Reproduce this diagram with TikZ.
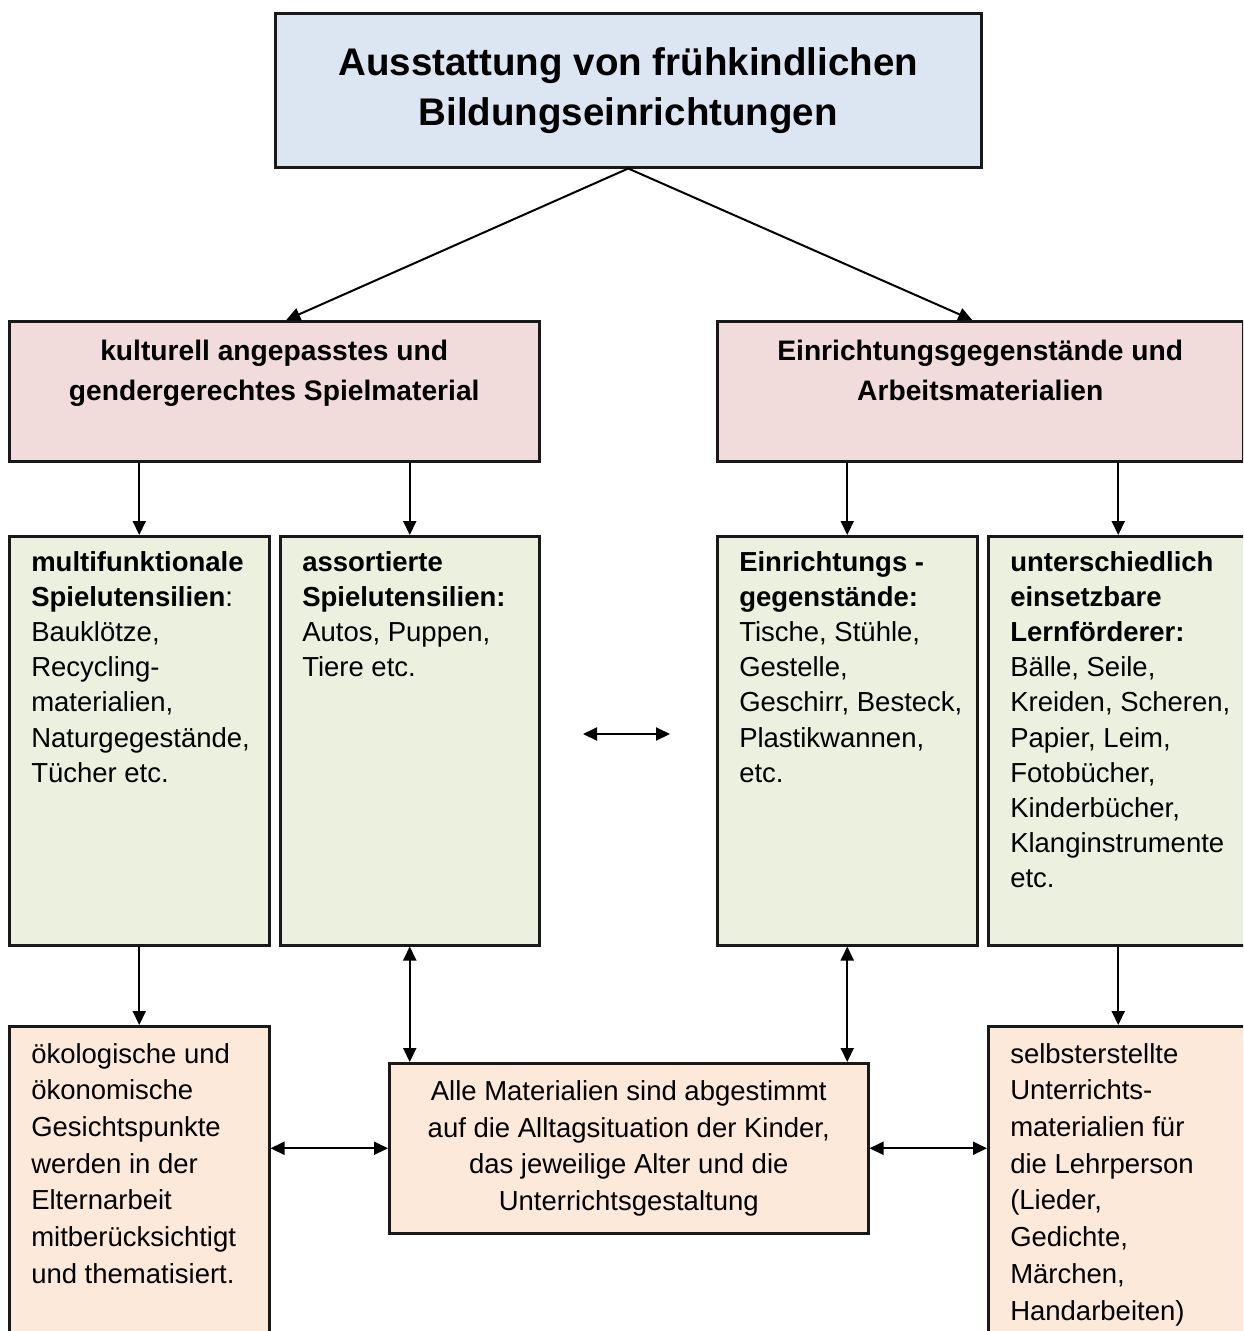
\documentclass[tikz,border=0pt]{standalone}
\usepackage{fontspec}
\setmainfont{Liberation Sans}
\usepackage{tikz}
\usepackage{xcolor}
\usetikzlibrary{arrows.meta}
\definecolor{titleblue}{HTML}{DCE6F2}
\definecolor{headpink}{HTML}{F2DCDB}
\definecolor{itemgreen}{HTML}{EBF1DE}
\definecolor{notepeach}{HTML}{FDE9D9}
\hyphenpenalty=10000
\exhyphenpenalty=10000
\tikzset{
    plain-box/.style = {draw=black!90, line width=2.5pt, rectangle, anchor=north west},
    title-box/.style = {plain-box, fill=titleblue, minimum width=706pt, minimum height=154pt, align=center, font=\bfseries\fontsize{38.5}{50}\selectfont},
    head-box/.style = {plain-box, fill=headpink, inner xsep=0pt, inner ysep=19pt, font=\bfseries\fontsize{28.2}{40}\selectfont},
    item-box/.style = {plain-box, fill=itemgreen, inner xsep=22pt, inner ysep=15pt, font=\fontsize{27.5}{35.2}\selectfont},
    note-box/.style = {plain-box, fill=notepeach, inner xsep=22pt, inner ysep=17pt, font=\fontsize{27.5}{36.7}\selectfont},
    link/.style = {line width=2pt},
}

\begin{document}
\begin{tikzpicture}[x=1pt, y=-1pt, >={Triangle[length=14pt,width=13pt]}]
\useasboundingbox (0,0) rectangle (1243,1331);
\clip (0,0) rectangle (1243,1331);

% top level
\node [title-box] (title) at (274,12) {Ausstattung von frühkindlichen\\Bildungseinrichtungen};

% second level
\node [head-box] (headL) at (8,320) {\begin{minipage}[c][102pt][t]{530pt}
    \centering
    kulturell angepasstes und\\
    gendergerechtes Spielmaterial
\end{minipage}};
\node [head-box] (headR) at (716,320) {\begin{minipage}[c][102pt][t]{526pt}
    \centering
    Einrichtungsgegenstände und\\
    Arbeitsmaterialien
\end{minipage}};

% green boxes
\node [item-box] (itemA) at (8,535) {\begin{minipage}[c][379pt][t]{216pt}
    \raggedright
    \textbf{multifunktionale}\\
    \textbf{Spielutensilien}:\\
    Bauklötze,\\
    Recycling-\\
    materialien,\\
    \mbox{Naturgegestände,}\\
    Tücher etc.
\end{minipage}};
\node [item-box] (itemB) at (279,535) {\begin{minipage}[c][379pt][t]{215pt}
    \raggedright
    \textbf{assortierte}\\
    \textbf{Spielutensilien:}\\
    Autos, Puppen,\\
    Tiere etc.
\end{minipage}};
\node [item-box] (itemC) at (716,535) {\begin{minipage}[c][379pt][t]{216pt}
    \raggedright
    \textbf{Einrichtungs -}\\
    \textbf{gegenstände:}\\
    Tische, Stühle,\\
    Gestelle,\\
    \mbox{Geschirr, Besteck,}\\
    Plastikwannen,\\
    etc.
\end{minipage}};
\node [item-box] (itemD) at (987,535) {\begin{minipage}[c][379pt][t]{216pt}
    \raggedright
    \textbf{unterschiedlich}\\
    \textbf{einsetzbare}\\
    \textbf{Lernförderer:}\\
    Bälle, Seile,\\
    \mbox{Kreiden, Scheren,}\\
    Papier, Leim,\\
    Fotobücher,\\
    Kinderbücher,\\
    \mbox{Klanginstrumente}\\
    etc.
\end{minipage}};

% bottom row
\node [note-box] (noteL) at (8,1025) {\begin{minipage}[c][296pt][t]{216pt}
    \raggedright
    ökologische und\\
    ökonomische\\
    Gesichtspunkte\\
    werden in der\\
    Elternarbeit\\
    mitberücksichtigt\\
    und thematisiert.
\end{minipage}};
\node [note-box, inner sep=0pt, minimum width=479pt, minimum height=170pt, align=center] (mid) at (388,1062) {Alle Materialien sind abgestimmt\\
    auf die Alltagsituation der Kinder,\\
    das jeweilige Alter und die\\
    Unterrichtsgestaltung};
\node [note-box] (noteR) at (987,1025) {\begin{minipage}[c][296pt][t]{216pt}
    \raggedright
    selbsterstellte\\
    Unterrichts-\\
    materialien für\\
    die Lehrperson\\
    (Lieder,\\
    Gedichte,\\
    Märchen,\\
    Handarbeiten)
\end{minipage}};

\coordinate (pairL) at (583,734);
\coordinate (pairR) at (670,734);

% connectors
\draw [link, ->] (title.south) -- ([xshift=12pt]headL.north);
\draw [link, ->] (title.south) -- ([xshift=-8pt]headR.north);
\draw [link, ->] (itemA.north |- headL.south) -- (itemA.north);
\draw [link, ->] (itemB.north |- headL.south) -- (itemB.north);
\draw [link, ->] (itemC.north |- headR.south) -- (itemC.north);
\draw [link, ->] (itemD.north |- headR.south) -- (itemD.north);
\draw [link, <->] (pairL) -- (pairR);
\draw [link, ->] (itemA.south) -- (noteL.north);
\draw [link, ->] (itemD.south) -- (noteR.north);
\draw [link, <->] (itemB.south) -- (itemB.south |- mid.north);
\draw [link, <->] (itemC.south) -- (itemC.south |- mid.north);
\draw [link, <->] (mid.west) -- (mid.west -| noteL.east);
\draw [link, <->] (mid.east) -- (mid.east -| noteR.west);
\end{tikzpicture}
\end{document}
